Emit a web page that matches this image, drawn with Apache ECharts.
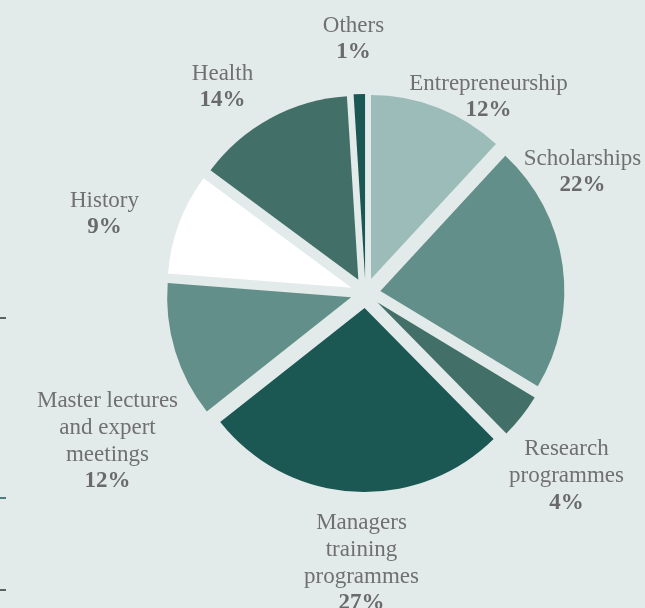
<!DOCTYPE html>
<html>
<head>
<meta charset="utf-8">
<script src="https://cdn.jsdelivr.net/npm/echarts@6/dist/echarts.min.js"></script>
<style>
  html, body { margin: 0; padding: 0; background: #e3ebea; }
  #chart { width: 645px; height: 608px; }
</style>
</head>
<body>
<div id="chart"></div>
<script>
const names = [
  'Entrepreneurship',
  'Scholarships',
  'Research\nprogrammes',
  'Managers\ntraining\nprogrammes',
  'Master lectures\nand expert\nmeetings',
  'History',
  'Health',
  'Others'
];
const shares = [12, 22, 4, 27, 12, 9, 14, 1];
const colors = ['#9bbcb8', '#628f89', '#436f69', '#1b5753', '#628f89', '#ffffff', '#436f69', '#1b5753'];

// label block centres, relative to the pie centre
const labelOffsets = [
  [123, -196], [217, -121], [201, 183], [-4, 270],
  [-258, 148], [-261, -79], [-143, -206], [-12, -254]
];

const cx = 365.5, cy = 293;

const rich = {
  n: {
    fontFamily: 'Liberation Serif',
    fontSize: 23,
    lineHeight: 27,
    fill: '#707070',
    align: 'center'
  },
  p: {
    fontFamily: 'Liberation Serif',
    fontSize: 23,
    fontWeight: 'bold',
    lineHeight: 27,
    fill: '#6a6a6a',
    align: 'center'
  }
};

function labelText(name, value) {
  const lines = name.split('\n').map(l => `{n|${l}}`).join('\n');
  return `${lines}\n{p|${value}%}`;
}

const chart = echarts.init(document.getElementById('chart'));

chart.setOption({
  backgroundColor: '#e3ebea',
  animation: false,
  series: [
    {
      type: 'pie',
      center: [cx, cy],
      radius: 184,
      startAngle: 90,
      clockwise: true,
      selectedMode: 'multiple',
      selectedOffset: 15,
      emphasis: { disabled: true },
      itemStyle: { borderWidth: 0 },
      label: { show: false },
      labelLine: { show: false },
      data: names.map((n, i) => ({
        name: n,
        value: shares[i],
        selected: true,
        itemStyle: { color: colors[i] },
        select: { itemStyle: { color: colors[i] } }
      }))
    }
  ],
  graphic: [
    ...names.map((n, i) => ({
      type: 'text',
      x: cx + labelOffsets[i][0],
      y: cy + labelOffsets[i][1],
      style: {
        text: labelText(n, shares[i]),
        rich,
        align: 'center',
        verticalAlign: 'middle'
      }
    })),
    { type: 'line', shape: { x1: 0, y1: 318, x2: 6, y2: 318 }, style: { stroke: '#333', lineWidth: 1.5 } },
    { type: 'line', shape: { x1: 0, y1: 498, x2: 6, y2: 498 }, style: { stroke: '#1b5753', lineWidth: 1.5 } },
    { type: 'line', shape: { x1: 0, y1: 590, x2: 6, y2: 590 }, style: { stroke: '#333', lineWidth: 1.5 } }
  ]
});
</script>
</body>
</html>
